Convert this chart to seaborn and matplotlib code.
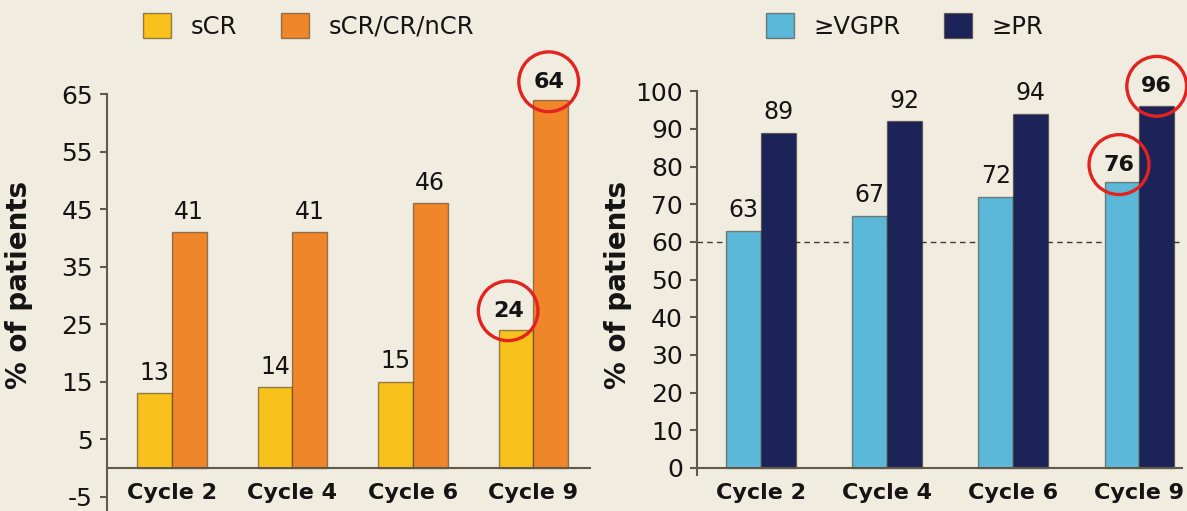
# response bars by cycle, two panels
import pandas as pd
import matplotlib
matplotlib.use('Agg')
import matplotlib.pyplot as plt
import seaborn as sns

# data
cycles = ['Cycle 2', 'Cycle 4', 'Cycle 6', 'Cycle 9']
scr = [13, 14, 15, 24]
scr_cr_ncr = [41, 41, 46, 64]
vgpr = [63, 67, 72, 76]
pr = [89, 92, 94, 96]
left_groups = ['sCR', 'sCR/CR/nCR']
right_groups = ['\u2265VGPR', '\u2265PR']
left_ticks = list(range(-5, 66, 10))
right_ticks = list(range(0, 101, 10))
ref_line = 60

bg = '#f0ece0'
ink = '#141414'
spine_col = '#62594b'
left_colors = ['#f9c11b', '#f0862a']
right_colors = ['#5bb8d8', '#1c2358']
red = '#e3231f'

sns.set_style('ticks')
plt.rcParams['font.family'] = ['DejaVu Sans']
plt.rcParams['axes.unicode_minus'] = False
plt.rcParams['text.color'] = ink
plt.rcParams['axes.labelcolor'] = ink
plt.rcParams['xtick.color'] = ink
plt.rcParams['ytick.color'] = ink

fig = plt.figure(figsize=(11.87, 5.11), dpi=100, facecolor=bg)
ax1 = fig.add_axes([0.0901, 0.0, 0.407, 0.816])
ax2 = fig.add_axes([0.587, 0.0695, 0.409, 0.752])

df_left = pd.DataFrame({'cycle': cycles * 2,
                        'pct': scr + scr_cr_ncr,
                        'group': [left_groups[0]] * 4 + [left_groups[1]] * 4})
df_right = pd.DataFrame({'cycle': cycles * 2,
                         'pct': vgpr + pr,
                         'group': [right_groups[0]] * 4 + [right_groups[1]] * 4})

edge = (0.25, 0.2, 0.12, 0.55)
sns.barplot(data=df_left, x='cycle', y='pct', hue='group', palette=left_colors,
            width=0.574, saturation=1, errorbar=None, edgecolor=edge,
            linewidth=1, ax=ax1)
sns.barplot(data=df_right, x='cycle', y='pct', hue='group', palette=right_colors,
            width=0.55, saturation=1, errorbar=None, edgecolor=edge,
            linewidth=1, ax=ax2)
ax2.axhline(ref_line, ls='--', dashes=(4, 3), color='#3a3a3a', lw=1, zorder=0.5)

ax1.set_ylim(-7.5, 65)
ax1.set_xlim(-0.54, 3.47)
ax1.set_yticks(left_ticks)
ax2.set_ylim(-2, 100)
ax2.set_xlim(-0.508, 3.34)
ax2.set_yticks(right_ticks)

# (hue index, bar index, x offset px, y offset px) of the ringed values
circled = {ax1: [(0, 3, -8, 19), (1, 3, -2, 18)],
           ax2: [(0, 3, -3, 17), (1, 3, 0, 20)]}

for ax, groups in [(ax1, left_groups), (ax2, right_groups)]:
    ax.set_facecolor(bg)
    ax.set_xlabel('')
    ax.set_ylabel('% of patients', fontsize=20, fontweight='bold')
    for side in ['top', 'right']:
        ax.spines[side].set_visible(False)
    for side in ['left', 'bottom']:
        ax.spines[side].set_color(spine_col)
        ax.spines[side].set_linewidth(1.5)
    ax.spines['bottom'].set_position(('data', 0))
    ax.tick_params(axis='y', direction='out', length=5, width=1.5,
                   color=spine_col, labelsize=18, pad=5)
    ax.tick_params(axis='x', length=0, pad=11, labelsize=16)
    for lab in ax.get_xticklabels():
        lab.set_fontweight('bold')

    # value labels, the highlighted ones get a red ring instead
    for ci, cont in enumerate(ax.containers):
        hl = {bi: (dx, dy) for (c, bi, dx, dy) in circled[ax] if c == ci}
        labels = ['' if bi in hl else f'{b.get_height():.0f}'
                  for bi, b in enumerate(cont)]
        ax.bar_label(cont, labels=labels, padding=6, fontsize=17)
        for bi, (dx, dy) in hl.items():
            b = cont[bi]
            ax.annotate(f'{b.get_height():.0f}',
                        xy=(b.get_x() + b.get_width() / 2, b.get_height()),
                        xytext=(dx, dy), textcoords='offset pixels',
                        ha='center', va='center', fontsize=16,
                        fontweight='bold', zorder=5,
                        bbox=dict(boxstyle='circle,pad=0.65', fc='none',
                                  ec=red, lw=2.4))

    handles, labels = ax.get_legend_handles_labels()
    ax.legend(handles, labels, ncol=2, frameon=False, fontsize=17.5,
              handlelength=1.15, handleheight=1.15, handletextpad=0.8,
              columnspacing=1.8, loc='center',
              bbox_to_anchor=(0.26 if ax is ax1 else 0.762, 0.949),
              bbox_transform=fig.transFigure)

ax1.yaxis.set_label_coords(-0.153, 0.543)
ax2.yaxis.set_label_coords(-0.134, 0.497)

fig.savefig('out.png', dpi=100, facecolor=bg)
